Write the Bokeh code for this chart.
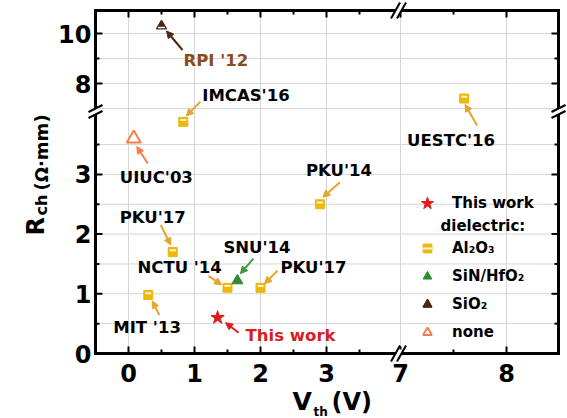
from math import pi

from bokeh.core.properties import value
from bokeh.embed import file_html
from bokeh.models import (Arrow, ColumnDataSource, Label, Legend, LegendItem,
                          NormalHead, Range1d)
from bokeh.plotting import figure
from bokeh.resources import INLINE

# ---------------- data ----------------
names = ["This work", "MIT '13", "NCTU '14", "SNU'14", "PKU'17", "PKU'17",
         "PKU'14", "IMCAS'16", "UIUC'03", "RPI '12", "UESTC'16"]
vth_V = [1.35, 0.30, 1.50, 1.65, 2.00, 0.67, 2.90, 0.83, 0.08, 0.50, 7.60]
rch_ohm_mm = [0.60, 0.98, 1.10, 1.22, 1.10, 1.70, 2.50, 3.88, 3.60, 10.30, 7.40]
dielectric = ["this work", "Al2O3", "Al2O3", "SiN/HfO2", "Al2O3", "Al2O3",
              "Al2O3", "Al2O3", "none", "SiO2", "Al2O3"]

dielectric_classes = ["Al2O3", "SiN/HfO2", "SiO2", "none"]
dielectric_labels = ["Al₂O₃", "SiN/HfO₂", "SiO₂", "none"]

x_ticks_low = [0, 1, 2, 3]
x_ticks_high = [7, 8]
x_minor_low = [0.5, 1.5, 2.5, 3.5]
x_minor_high = [7.5]
y_ticks_low = [0, 1, 2, 3]
y_ticks_high = [8, 10]
y_minor_low = [0.5, 1.5, 2.5, 3.5]
y_minor_high = [9]
y_grid_low = [0.5, 1, 1.5, 2, 2.5, 3, 3.5]
y_grid_high = [7, 8, 9, 10]

# ---------------- layout (pixels) ----------------
W, H = 567, 418
BOX_L, BOX_T, BOX_R, BOX_B = 95, 10, 558, 353   # axes box inside the canvas

# each axis is broken into two linear segments, each with its own range;
# XSTART / YSTART hold the value found at the box's left / bottom edge
XPPU = {"default": 66.0, "xhi": 106.0}
XSTART = {"default": -0.5, "xhi": 7 - (400 - BOX_L) / 106.0}
YPPU = {"default": 59.7, "yhi": 25.0}
YSTART = {"default": 0.0, "yhi": 10 - (BOX_B - 33) / 25.0}

X_BREAK_PX = 398
Y_BREAK_PX = 111
TICK_MAJOR, TICK_MINOR = 7, 4


def to_px_x(v, rn="default"):
    return BOX_L + (v - XSTART[rn]) * XPPU[rn]


def to_px_y(v, rn="default"):
    return BOX_B - (v - YSTART[rn]) * YPPU[rn]


def from_px_x(px, rn="default"):
    return XSTART[rn] + (px - BOX_L) / XPPU[rn]


def from_px_y(py, rn="default"):
    return YSTART[rn] + (BOX_B - py) / YPPU[rn]


def main_x(v):
    """Position of an upper-segment x value in the main x range."""
    return from_px_x(to_px_x(v, "xhi"))


def main_y(v):
    return from_px_y(to_px_y(v, "yhi"))


FONT = "DejaVu Sans"
BLACK = "#000000"
RED = "#E01B1B"
RED_TEXT = "#D42020"
GOLD = "#EDB80E"
GOLD_ARROW = "#E5A52A"
GREEN = "#2E8B2E"
GREEN_ARROW = "#3C9A3C"
BROWN = "#4A2812"
BROWN_TEXT = "#8B4A1A"
ORANGE = "#F2804F"
GRID_C = "#D6D6D6"

ranges_x = {k: Range1d(from_px_x(0, k), from_px_x(W, k)) for k in XPPU}
ranges_y = {k: Range1d(from_px_y(H, k), from_px_y(0, k)) for k in YPPU}

p = figure(width=W, height=H, min_border=0,
           x_range=ranges_x["default"], y_range=ranges_y["default"],
           x_axis_type=None, y_axis_type=None,
           output_backend="svg", toolbar_location=None,
           outline_line_color=None, background_fill_color="white",
           border_fill_color="white")
p.extra_x_ranges = {"xhi": ranges_x["xhi"]}
p.extra_y_ranges = {"yhi": ranges_y["yhi"]}

# box edges in main-range units
xl, xr = from_px_x(BOX_L), from_px_x(BOX_R)
yb, yt = from_px_y(BOX_B), from_px_y(BOX_T)

x_major = list(x_ticks_low) + [main_x(v) for v in x_ticks_high]
x_minor = list(x_minor_low) + [main_x(v) for v in x_minor_high]
y_major = list(y_ticks_low) + [main_y(v) for v in y_ticks_high]
y_minor = list(y_minor_low) + [main_y(v) for v in y_minor_high]
y_grid = list(y_grid_low) + [main_y(v) for v in y_grid_high]

# ---------------- grid ----------------
p.segment(x0=x_major, y0=[yb] * len(x_major), x1=x_major, y1=[yt] * len(x_major),
          line_color=GRID_C, line_width=1)
p.segment(x0=[xl] * len(y_grid), y0=y_grid, x1=[xr] * len(y_grid), y1=y_grid,
          line_color=GRID_C, line_width=1)

# ---------------- axes box, ticks, tick labels ----------------
p.quad(left=[xl], right=[xr], bottom=[yb], top=[yt], fill_color=None,
       line_color=BLACK, line_width=3, line_join="miter")

for ticks, length in ((x_major, TICK_MAJOR), (x_minor, TICK_MINOR)):
    n = len(ticks)
    dy = length / YPPU["default"]
    p.segment(x0=ticks, y0=[yb] * n, x1=ticks, y1=[yb + dy] * n, line_color=BLACK, line_width=2)
    p.segment(x0=ticks, y0=[yt] * n, x1=ticks, y1=[yt - dy] * n, line_color=BLACK, line_width=2)
for ticks, length in ((y_major, TICK_MAJOR), (y_minor, TICK_MINOR)):
    n = len(ticks)
    dx = length / XPPU["default"]
    p.segment(x0=[xl] * n, y0=ticks, x1=[xl + dx] * n, y1=ticks, line_color=BLACK, line_width=2)
    p.segment(x0=[xr] * n, y0=ticks, x1=[xr - dx] * n, y1=ticks, line_color=BLACK, line_width=2)

tick_font = dict(text_font=value(FONT), text_font_style="bold", text_font_size="24px",
                 text_color=BLACK, text_baseline="middle")
p.text(x=x_major, y=[from_px_y(372)] * len(x_major),
       text=[str(v) for v in list(x_ticks_low) + list(x_ticks_high)],
       text_align="center", **tick_font)
p.text(x=[from_px_x(91)] * len(y_major), y=y_major,
       text=[str(v) for v in list(y_ticks_low) + list(y_ticks_high)],
       text_align="right", **tick_font)

# ---------------- axis break marks ----------------
def stroke(x0, y0, x1, y1):
    p.segment(x0=[from_px_x(x0)], y0=[from_px_y(y0)], x1=[from_px_x(x1)], y1=[from_px_y(y1)],
              line_color=BLACK, line_width=2)


def gap(pts):
    p.patch(x=[from_px_x(a) for a, _ in pts], y=[from_px_y(b) for _, b in pts],
            fill_color="white", line_color=None)


for axis_y in (BOX_B, BOX_T):
    c1, c2 = X_BREAK_PX - 3, X_BREAK_PX + 3
    gap([(c1 - 2.5, axis_y + 4), (c2 - 2.5, axis_y + 4),
         (c2 + 2.5, axis_y - 4), (c1 + 2.5, axis_y - 4)])
    for c in (c1, c2):
        stroke(c - 4.5, axis_y + 8, c + 4.5, axis_y - 8)

for axis_x in (BOX_L, BOX_R):
    c1, c2 = Y_BREAK_PX - 3, Y_BREAK_PX + 3
    gap([(axis_x - 4, c1 + 2), (axis_x + 4, c1 - 2),
         (axis_x + 4, c2 - 2), (axis_x - 4, c2 + 2)])
    for c in (c1, c2):
        stroke(axis_x - 7, c + 3.5, axis_x + 7, c - 3.5)

# ---------------- points ----------------
seg_x = ["xhi" if v > 5 else "default" for v in vth_V]
seg_y = ["yhi" if r > 5 else "default" for r in rch_ohm_mm]

MARKERS = {
    "this work": dict(marker="star", size=14, fill_color=RED, line_color=RED),
    "Al2O3": dict(marker="square", size=9, fill_color=GOLD, line_color=GOLD),
    "SiN/HfO2": dict(marker="triangle", size=11, fill_color=GREEN, line_color=GREEN),
    "SiO2": dict(marker="triangle", size=10, fill_color="white", line_color=BROWN,
                 line_width=1.3),
    "none": dict(marker="triangle", size=14, fill_color="white", line_color=ORANGE,
                 line_width=2),
}

groups = {}
for i, kind in enumerate(dielectric):
    groups.setdefault((kind, seg_x[i], seg_y[i]), []).append(i)

renderers = {}
for (kind, xrn, yrn), idx in groups.items():
    xs = [vth_V[i] for i in idx]
    ys = [rch_ohm_mm[i] for i in idx]
    r = p.scatter("x", "y", source=ColumnDataSource(dict(x=xs, y=ys)),
                  x_range_name=xrn, y_range_name=yrn, **MARKERS[kind])
    rs = [r]
    if kind == "Al2O3":
        # light band across the upper part of the half-filled square
        band = ColumnDataSource(dict(x=xs, y=[v + 1.8 / YPPU[yrn] for v in ys]))
        rs.append(p.scatter("x", "y", source=band, marker="dash", size=6,
                            line_color="#FFF6C8", line_width=2,
                            x_range_name=xrn, y_range_name=yrn))
    if kind == "SiO2":
        # filled top half of the triangle
        top = ColumnDataSource(dict(x=xs, y=[v + 1.5 / YPPU[yrn] for v in ys]))
        rs.append(p.scatter("x", "y", source=top, marker="triangle", size=6,
                            fill_color=BROWN, line_color=BROWN,
                            x_range_name=xrn, y_range_name=yrn))
    renderers.setdefault(kind, []).extend(rs)

# ---------------- point annotations (offsets in pixels) ----------------
label_dx = [28, -35, -90, -14, 20, -53, -14, 19, -14, 22, -57]
label_dy = [18, 33, -20, -33, -20, -35, -34, -26, 39, 34, 42]
arrow_from = [(21, 15), (11, 20), (-19, -12), (16, -22), (17, -17), (-12, -27),
              (20, -22), (17, -20), (14, 25), (21, 24), (13, 27)]
arrow_to = [(8, 5), (4, 6), (-6, -3), (3, -7), (4, -4), (-2, -7),
            (3, -7), (3, -6), (3, 8), (5, 5), (1, 6)]
label_color = [RED_TEXT, BLACK, BLACK, BLACK, BLACK, BLACK, BLACK, BLACK, BLACK,
               BROWN_TEXT, BLACK]
arrow_color = [RED, GOLD_ARROW, GOLD_ARROW, GREEN_ARROW, GOLD_ARROW, GOLD_ARROW,
               GOLD_ARROW, GOLD_ARROW, ORANGE, BROWN, GOLD_ARROW]

for i, name in enumerate(names):
    xrn, yrn = seg_x[i], seg_y[i]
    px, py = to_px_x(vth_V[i], xrn), to_px_y(rch_ohm_mm[i], yrn)
    p.add_layout(Label(x=from_px_x(px + label_dx[i], xrn), y=from_px_y(py + label_dy[i], yrn),
                       x_range_name=xrn, y_range_name=yrn, text=name,
                       text_align="left", text_baseline="middle",
                       text_font=FONT, text_font_style="bold", text_font_size="16.5px",
                       text_color=label_color[i]))
    c = arrow_color[i]
    (sx0, sy0), (sx1, sy1) = arrow_from[i], arrow_to[i]
    p.add_layout(Arrow(x_start=from_px_x(px + sx0, xrn), y_start=from_px_y(py + sy0, yrn),
                       x_end=from_px_x(px + sx1, xrn), y_end=from_px_y(py + sy1, yrn),
                       x_range_name=xrn, y_range_name=yrn,
                       line_color=c, line_width=2,
                       end=NormalHead(size=7, fill_color=c, line_color=c, line_width=1)))

# ---------------- axis titles (anchored at the middle of each piece) ----------------
def title_part(text, px, py, size, angle=0.0):
    p.add_layout(Label(x=from_px_x(px), y=from_px_y(py), text=text, angle=angle,
                       text_align="left", text_baseline="middle",
                       text_font=FONT, text_font_style="bold", text_font_size=size,
                       text_color=BLACK))


title_part("V", 292, 401, "25px")
title_part("th", 313, 411, "12px")
title_part("(V)", 331, 401, "24px")

title_part("R", 35, 235, "24px", pi / 2)
title_part("ch", 41, 215, "16px", pi / 2)
title_part("(Ω·mm)", 41, 190, "18px", pi / 2)

# ---------------- legend ----------------
legend_text = dict(label_text_font=FONT, label_text_font_style="bold",
                   label_text_font_size="15px", label_text_color=BLACK,
                   background_fill_alpha=0, border_line_alpha=0,
                   padding=0, margin=0, spacing=0, label_height=20)

p.add_layout(Legend(items=[LegendItem(label="This work", renderers=renderers["this work"][:1])],
                    location=(411, H - 219),
                    glyph_width=32, glyph_height=32, label_standoff=9, **legend_text))

p.add_layout(Label(x=from_px_x(440), y=from_px_y(225), text="dielectric:",
                   text_align="left", text_baseline="middle", text_font=FONT,
                   text_font_style="bold", text_font_size="15px", text_color=BLACK))

items = [LegendItem(label=lab, renderers=renderers[k][:2])
         for k, lab in zip(dielectric_classes, dielectric_labels)]
p.add_layout(Legend(items=items, location=(416, H - 346),
                    glyph_width=22, glyph_height=28, label_standoff=14, **legend_text))

open("out.html", "w").write(file_html(p, INLINE))
